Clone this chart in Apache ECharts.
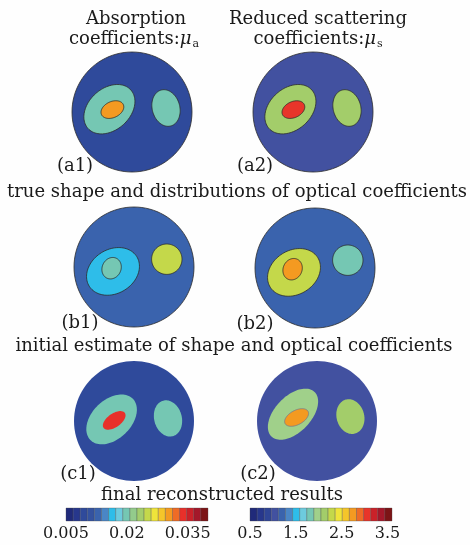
<!DOCTYPE html>
<html><head><meta charset="utf-8">
<script src="https://cdn.jsdelivr.net/npm/echarts@6/dist/echarts.min.js"></script>
<style>html,body{margin:0;background:#fff}#c{width:470px;height:545px}</style>
</head><body><div id="c"></div>
<script>
// Circular phantom (radius in mm) with two inclusions; each region is
// [centre x, centre y, semi-axis a, semi-axis b, tilt in degrees]
const phantomRadius = 30;
const trueShape = [
  [0, 0, 30, 30, 0],
  [-11.3, 1.4, 14.4, 10.4, 42],
  [-9.8, 1.2, 6, 4, 25],
  [17, 2.0, 9.3, 6.9, 105]
];
const initialShape = [
  [0, 0, 30, 30, 0],
  [-10.5, -2.2, 14, 11, 32],
  [-11.2, -0.6, 5.5, 4.7, 65],
  [16.4, 3.9, 7.6, 7.6, 0]
];
const finalShapeMuA = [
  [0, 0, 30, 30, 0],
  [-11.2, 0.8, 14.8, 9.8, 44],
  [-9.9, 0.3, 6.5, 3.4, 35],
  [17, 1.3, 9.2, 6.9, 105]
];
const finalShapeMuS = [
  [0, 0, 30, 30, 0],
  [-12, 3.4, 15.5, 9, 46],
  [-10.2, 1.75, 6.5, 3.6, 28],
  [16.7, 2.2, 8.8, 6.9, 105]
];

// Optical coefficients per region: background, large inclusion, core, small inclusion
const trueMuA = [0.0095, 0.02, 0.03, 0.02];
const trueMuS = [1.0, 2.1, 3.0, 2.1];
const initMuA = [0.0135, 0.017, 0.02, 0.025];
const initMuS = [1.2, 2.3, 2.8, 1.85];
const finalMuA = [0.0095, 0.02, 0.034, 0.02];
const finalMuS = [1.0, 2.0, 2.75, 2.1];

// Colour scales
const muARange = [0.005, 0.04];
const muSRange = [0.5, 3.6];
const muATicks = [0.005, 0.02, 0.035];
const muSTicks = [0.5, 1.5, 2.5, 3.5];
const muAPalette = ['#202a7a','#27378c','#2f4a9b','#34529f','#3a63ad','#4a86c6','#2ebde9','#6dcbde','#75c7b3','#93cb8c',
  '#a3cd6c','#c4d84a','#efe43a','#f5c52a','#f49a21','#ee6b26','#e8302a','#ca2129','#a4182a','#7c1416'];
const muSPalette = ['#202a7a','#27378c','#2f4596','#4251a0','#3a63ad','#4a86c6','#2ebde9','#6dcbde','#75c7b3','#a0d08a',
  '#a3cd6a','#c4d84a','#efe43a','#f5c52a','#f49a21','#ee6b26','#e8352a','#ca2129','#a4182a','#7c1416'];

function colorOf(v, range, pal) {
  const k = Math.floor((v - range[0]) / (range[1] - range[0]) * pal.length);
  return pal[Math.max(0, Math.min(pal.length - 1, k))];
}

const panels = [
  { geom: trueShape, vals: trueMuA, range: muARange, pal: muAPalette, left: 72, top: 52, stroke: '#2b2b2b', inner: '#2b2b2b' },
  { geom: trueShape, vals: trueMuS, range: muSRange, pal: muSPalette, left: 253, top: 52, stroke: '#2b2b2b', inner: '#2b2b2b' },
  { geom: initialShape, vals: initMuA, range: muARange, pal: muAPalette, left: 74, top: 207, stroke: '#2b2b2b', inner: '#2b2b2b' },
  { geom: initialShape, vals: initMuS, range: muSRange, pal: muSPalette, left: 255, top: 208, stroke: '#2b2b2b', inner: '#2b2b2b' },
  { geom: finalShapeMuA, vals: finalMuA, range: muARange, pal: muAPalette, left: 74, top: 361, stroke: null, inner: null },
  { geom: finalShapeMuS, vals: finalMuS, range: muSRange, pal: muSPalette, left: 257, top: 361, stroke: null, inner: '#7a7a8a' }
];
const bars = [
  { range: muARange, ticks: muATicks, pal: muAPalette, left: 66 },
  { range: muSRange, ticks: muSTicks, pal: muSPalette, left: 250 }
];

const grid = [], xAxis = [], yAxis = [], series = [];
const R = phantomRadius;

panels.forEach((p, i) => {
  grid.push({ left: p.left, top: p.top, width: 120, height: 120 });
  xAxis.push({ type: 'value', gridIndex: i, min: -R, max: R, show: false });
  yAxis.push({ type: 'value', gridIndex: i, min: -R, max: R, show: false });
  series.push({
    type: 'custom', xAxisIndex: i, yAxisIndex: i, clip: false, silent: true,
    encode: { x: 0, y: 1 },
    data: p.geom.map((g, k) => g.concat([p.vals[k]])),
    renderItem: (params, api) => {
      const cx = api.value(0), cy = api.value(1), a = api.value(2), b = api.value(3);
      const th = api.value(4) * Math.PI / 180, v = api.value(5);
      const pts = [];
      const n = 96;
      for (let j = 0; j < n; j++) {
        const t = 2 * Math.PI * j / n;
        const dx = a * Math.cos(t) * Math.cos(th) - b * Math.sin(t) * Math.sin(th);
        const dy = a * Math.cos(t) * Math.sin(th) + b * Math.sin(t) * Math.cos(th);
        pts.push(api.coord([cx + dx, cy + dy]));
      }
      const idx = params.dataIndex;
      const stroke = idx === 2 ? p.inner : p.stroke;
      return {
        type: 'polygon', shape: { points: pts },
        style: { fill: colorOf(v, p.range, p.pal), stroke: stroke || 'none', lineWidth: stroke ? 0.8 : 0 }
      };
    }
  });
});

bars.forEach((b, j) => {
  const gi = panels.length + j;
  grid.push({ left: b.left, top: 508, width: 142, height: 13 });
  xAxis.push({
    type: 'value', gridIndex: gi, min: b.range[0], max: b.range[1],
    axisLine: { show: false }, splitLine: { show: false },
    axisTick: { show: false },
    axisLabel: {
      customValues: b.ticks, margin: 5,
      fontFamily: 'DejaVu Serif', fontSize: 16, color: '#1a1a1a',
      formatter: v => String(v)
    }
  });
  yAxis.push({ type: 'value', gridIndex: gi, min: 0, max: 1, show: false });
  series.push({
    type: 'custom', xAxisIndex: gi, yAxisIndex: gi, clip: false, silent: true,
    data: b.pal.map((c, k) => [k]),
    renderItem: (params, api) => {
      const k = api.value(0), n = b.pal.length;
      const w = (b.range[1] - b.range[0]) / n;
      const p0 = api.coord([b.range[0] + k * w, 1]);
      const p1 = api.coord([b.range[0] + (k + 1) * w, 0]);
      return {
        type: 'rect',
        shape: { x: p0[0], y: p0[1], width: p1[0] - p0[0], height: p1[1] - p0[1] },
        style: { fill: b.pal[k], stroke: 'rgba(70,70,70,0.55)', lineWidth: 0.6 }
      };
    }
  });
});

const serif = 'DejaVu Serif';
function txt(x, y, s, size, rich) {
  return {
    type: 'text', x: x, y: y, silent: true,
    style: {
      text: s, fontFamily: serif, fontSize: size, fill: '#1a1a1a',
      align: 'center', verticalAlign: 'middle', rich: rich
    }
  };
}
const muRich = {
  mu: { fontFamily: serif, fontStyle: 'italic', fontSize: 18, fill: '#1a1a1a' },
  sub: { fontFamily: serif, fontSize: 11, fill: '#1a1a1a', padding: [10, 0, 0, 1] }
};

const graphic = [
  txt(136, 19, 'Absorption', 18),
  txt(134, 39, 'coefficients:{mu|μ}{sub|a}', 18, muRich),
  txt(318, 19, 'Reduced scattering', 18),
  txt(318, 39, 'coefficients:{mu|μ}{sub|s}', 18, muRich),
  txt(75, 166, '(a1)', 18),
  txt(255, 166, '(a2)', 18),
  txt(237, 192, 'true shape and distributions of optical coefficients', 18),
  txt(80, 323, '(b1)', 18),
  txt(255, 324, '(b2)', 18),
  txt(234, 346, 'initial estimate of shape and optical coefficients', 18),
  txt(78, 474, '(c1)', 18),
  txt(258, 474, '(c2)', 18),
  txt(222, 495, 'final reconstructed results', 18)
];

const chart = echarts.init(document.getElementById('c'), null, { renderer: 'canvas' });
chart.setOption({
  backgroundColor: '#fefefe',
  animation: false,
  grid, xAxis, yAxis, series, graphic
});
</script>
</body></html>
